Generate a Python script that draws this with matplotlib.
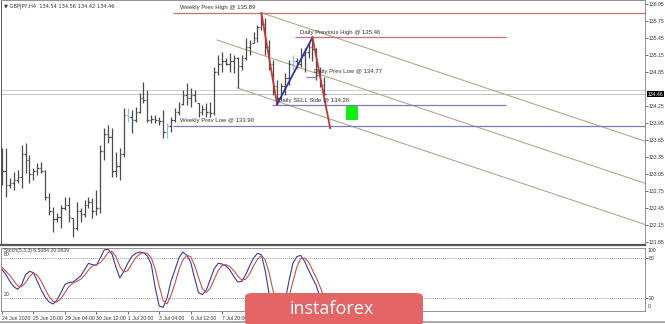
import numpy as np
import matplotlib.pyplot as plt
from matplotlib.patches import FancyBboxPatch, Rectangle

plt.rcParams['font.family'] = ['Liberation Sans', 'DejaVu Sans']

# GBPJPY H4 bars
opens = [133.40, 133.10, 132.85, 132.90, 132.95, 133.00, 133.40, 133.30, 133.05, 133.10,
         133.15, 133.10, 132.65, 132.40, 132.25, 132.30, 132.45, 132.50, 132.28, 132.10,
         132.40, 132.35, 132.50, 132.55, 132.40, 132.45, 133.45, 133.75, 133.70, 133.10,
         133.20, 133.40, 134.10, 134.05, 134.00, 134.15, 134.40, 134.35, 134.00, 134.02,
         134.00, 133.98, 133.80, 133.90, 134.00, 134.15, 134.28, 134.45, 134.40, 134.45,
         134.30, 134.15, 134.20, 134.15, 134.12, 134.85, 135.00, 135.05, 135.00, 135.05,
         135.10, 134.95, 135.10, 135.30, 135.36, 135.45, 135.65, 135.70, 135.30, 135.00,
         134.60, 134.40, 134.60, 134.75, 135.00, 135.05, 135.00, 135.15, 135.20, 135.30,
         135.25, 134.80, 134.62]
highs = [133.51, 133.51, 132.98, 133.09, 133.12, 133.56, 133.60, 133.39, 133.16, 133.25,
         133.26, 133.12, 132.72, 132.47, 132.36, 132.50, 132.65, 132.65, 132.28, 132.56,
         132.45, 132.59, 132.65, 132.63, 132.77, 133.56, 133.86, 133.92, 133.86, 133.44,
         133.51, 134.22, 134.22, 134.18, 134.23, 134.48, 134.67, 134.53, 134.09, 134.09,
         134.06, 134.18, 133.95, 134.06, 134.22, 134.32, 134.53, 134.66, 134.57, 134.53,
         134.30, 134.27, 134.30, 134.32, 134.94, 135.15, 135.20, 135.10, 135.19, 135.15,
         135.12, 135.15, 135.45, 135.42, 135.56, 135.68, 135.89, 135.80, 135.42, 135.06,
         134.71, 134.66, 134.83, 135.06, 135.15, 135.10, 135.27, 135.27, 135.36, 135.46,
         135.27, 134.94, 134.76]
lows = [132.86, 132.65, 132.80, 132.77, 132.89, 132.80, 133.07, 132.89, 132.95, 133.03,
        133.07, 132.59, 132.33, 132.03, 132.21, 132.10, 132.42, 132.21, 131.94, 132.06,
        132.21, 132.29, 132.45, 132.28, 132.33, 132.36, 133.30, 133.60, 133.00, 133.00,
        132.95, 133.35, 133.97, 133.77, 133.97, 134.13, 134.30, 133.97, 133.95, 133.95,
        133.92, 133.69, 133.69, 133.79, 133.97, 134.09, 134.27, 134.27, 134.23, 134.32,
        134.06, 134.09, 134.06, 134.06, 134.09, 134.80, 134.85, 134.97, 134.85, 134.83,
        134.57, 134.89, 135.06, 135.15, 135.36, 135.38, 135.59, 135.15, 134.89, 134.44,
        134.28, 134.36, 134.44, 134.62, 134.89, 134.92, 134.94, 134.85, 135.10, 135.05,
        134.71, 134.59, 134.44]
closes = [133.10, 132.85, 132.90, 132.95, 133.00, 133.40, 133.30, 133.05, 133.10, 133.15,
          133.10, 132.65, 132.40, 132.25, 132.30, 132.45, 132.50, 132.30, 132.10, 132.40,
          132.35, 132.50, 132.55, 132.40, 132.45, 133.45, 133.75, 133.70, 133.10, 133.20,
          133.40, 134.10, 134.05, 134.00, 134.15, 134.40, 134.35, 134.00, 134.02, 134.00,
          133.98, 133.80, 133.90, 134.00, 134.15, 134.25, 134.45, 134.40, 134.45, 134.35,
          134.15, 134.20, 134.15, 134.12, 134.85, 135.00, 135.05, 135.00, 135.05, 135.10,
          134.95, 135.10, 135.30, 135.35, 135.45, 135.65, 135.70, 135.30, 135.00, 134.60,
          134.40, 134.60, 134.75, 135.00, 135.05, 135.00, 135.15, 135.20, 135.30, 135.25,
          134.80, 134.62, 134.46]

stoch_k = [63, 55, 45, 37, 33, 40, 55, 60, 58, 45, 32, 21, 14, 11, 17, 28, 40, 43, 44, 48,
           53, 62, 72, 70, 69, 80, 92, 93, 86, 66, 50, 60, 72, 82, 87, 89, 88, 83, 70, 35,
           8, 6, 20, 45, 62, 80, 89, 84, 74, 50, 28, 25, 32, 48, 64, 72, 71, 68, 62, 52,
           44, 45, 55, 68, 80, 87, 85, 60, 25, 5, 2, 3, 15, 45, 72, 82, 84, 75, 62, 50,
           38, 20, 6.5]
stoch_d = [66, 60, 54, 46, 38, 37, 43, 52, 58, 54, 45, 33, 22, 15, 14, 19, 28, 37, 42, 45,
           48, 54, 62, 68, 70, 73, 80, 88, 90, 82, 67, 59, 61, 71, 80, 86, 88, 87, 80, 63,
           38, 16, 11, 24, 42, 62, 77, 84, 82, 69, 51, 34, 28, 35, 48, 61, 69, 70, 67, 61,
           53, 47, 48, 56, 68, 78, 84, 77, 57, 30, 11, 3, 7, 21, 44, 66, 79, 80, 74, 62,
           50, 36, 20.08]

# time labels visible in the reference (later ones sit under the logo)
time_bars = [0, 8, 16, 24, 32, 40, 48, 56]
time_labels = ['24 Jun 2020', '25 Jun 20:00', '29 Jun 04:00', '30 Jun 12:00', '1 Jul 20:00',
               '3 Jul 04:00', '6 Jul 12:00', '7 Jul 20:00']
price_ticks = [136.05, 135.75, 135.45, 135.15, 134.85, 134.25, 133.95, 133.65, 133.35,
               133.05, 132.75, 132.45, 132.15, 131.85]
last_price = 134.46
header = '\u25bc GBPJPY,H4  134.54 134.56 134.42 134.46'

level_names = ['Weekly Prev High', 'Daily Previous High', 'Daily Prev Low',
               'Daily SELL Side', 'Weekly Prev Low']
level_prices = [135.89, 135.46, 134.77, 134.26, 133.90]

# zigzag swing points (bar, price)
swing_bars = [66, 70, 79, 83.5]
swing_prices = [135.89, 134.28, 135.46, 133.86]

# channel lines (bar, price) start -> end
channel_start = [(66.2, 135.89), (54.7, 135.415), (59.8, 134.57)]
channel_slope = -0.0232

W, H = 665, 324
FS = 3.7
fig = plt.figure(figsize=(W / 100, H / 100), dpi=100)
fig.patch.set_facecolor('white')

ax = fig.add_axes([1 / W, 1 - 245 / H, 644 / W, 245 / H])
ax.set_xlim(-0.25, 163.6)
ax.set_ylim(131.80, 136.12)

x = np.arange(len(closes))
bar_col = ['#4a4a4a'] * len(closes)
for i in (32, 42, 74):
    bar_col[i] = '#8fbcd8'
ax.vlines(x, lows, highs, colors=bar_col, lw=0.9, zorder=3)
ax.hlines(opens, x - 0.4, x, colors=bar_col, lw=0.9, zorder=3)
ax.hlines(closes, x, x + 0.4, colors=bar_col, lw=0.9, zorder=3)

# bid / ask lines
ax.axhline(134.53, color='#d0d0d0', lw=0.7, zorder=1)
ax.axhline(last_price, color='#c0c0c0', lw=0.7, zorder=1)

# channel
for b0, p0 in channel_start:
    ax.plot([b0, 163.6], [p0, p0 + channel_slope * (163.6 - b0)], color='#b8a78f', lw=0.8, zorder=2)

# zigzag
ax.plot(swing_bars[0:2], swing_prices[0:2], color='#cc3333', lw=1.3, zorder=4)
ax.plot(swing_bars[1:3], swing_prices[1:3], color='#3333aa', lw=1.3, zorder=4)
ax.plot(swing_bars[2:4], swing_prices[2:4], color='#cc3333', lw=1.3, zorder=4)

# horizontal levels
red_lv, blue_lv = '#d46a6a', '#7a7ab8'
ax.hlines(level_prices[0], 43.5, 163.6, color=red_lv, lw=0.9, zorder=2)
ax.hlines(level_prices[1], 74.6, 128.2, color=red_lv, lw=0.9, zorder=2)
ax.hlines(level_prices[2], 77.4, 79.8, color='#8a8aa8', lw=0.9, zorder=2)
ax.hlines(level_prices[3], 68.7, 128.2, color=blue_lv, lw=0.9, zorder=2)
ax.hlines(level_prices[4], 43.5, 163.6, color=blue_lv, lw=0.9, zorder=2)

lbl_pos = [(45.3, 135.98), (75.8, 135.55), (79.3, 134.86), (70.2, 134.35), (45.3, 133.99)]
for (bx, py), name, val in zip(lbl_pos, level_names, level_prices):
    ax.text(bx, py, '%s @ %.2f' % (name, val), fontsize=4.3, color='#333333',
            va='center', ha='left', zorder=5)

# green box
ax.add_patch(Rectangle((87.5, 134.00), 3.0, 0.25, fc='#11ee11', ec='none', zorder=4))

ax.yaxis.tick_right()
ax.set_yticks(price_ticks)
ax.set_yticklabels(['%.2f' % t for t in price_ticks])
ax.tick_params(axis='y', direction='out', length=2, labelsize=FS, pad=0.8,
               colors='#333333', width=0.5)
ax.set_xticks([])
ax.text(1.0035, last_price, '%.2f' % last_price, transform=ax.get_yaxis_transform(),
        fontsize=FS, color='white', va='center', ha='left',
        bbox=dict(fc='black', ec='none', pad=0.4), zorder=6)
for s in ax.spines.values():
    s.set_color('#909090')
    s.set_linewidth(0.7)
ax.spines['bottom'].set_color('#555555')
ax.spines['bottom'].set_linewidth(1.6)
ax.spines['left'].set_color('#555555')
ax.text(0.004, 0.985, header, transform=ax.transAxes, fontsize=FS, color='#333333',
        family=['DejaVu Sans'], va='top', ha='left')

# stochastic panel
sx = fig.add_axes([1 / W, 1 - 311 / H, 644 / W, 63 / H])
sx.set_xlim(-0.25, 163.6)
sx.set_ylim(0.5, 95)
sx.plot(x, stoch_k, color='#3a3aa0', lw=0.8)
sx.plot(x, stoch_d, color='#c85050', lw=0.8)
sx.axhline(80, color='#777777', lw=0.6, ls=(0, (1, 1.5)))
sx.axhline(20, color='#777777', lw=0.6, ls=(0, (1, 1.5)))
sx.yaxis.tick_right()
sx.set_yticks([80, 20])
sx.set_yticklabels(['80', '20'])
sx.tick_params(axis='y', direction='out', length=2, labelsize=FS, pad=0.8,
               colors='#333333', width=0.5)
sx.text(1.004, 1.0, '100', transform=sx.transAxes, fontsize=FS, va='top', color='#333333')
sx.text(1.004, 0.03, '0', transform=sx.transAxes, fontsize=FS, va='bottom', color='#333333')
sx.text(0.004, 0.995, 'Stoch(5,3,3) 6.5084 20.0839', transform=sx.transAxes, fontsize=FS,
        va='top', color='#333333')
sx.text(0.004, 81, '80', transform=sx.get_yaxis_transform(), fontsize=FS, va='bottom',
        color='#333333')
sx.text(0.004, 21, '20', transform=sx.get_yaxis_transform(), fontsize=FS, va='bottom',
        color='#333333')
sx.set_xticks(time_bars)
sx.set_xticklabels(time_labels, ha='left')
sx.tick_params(axis='x', direction='out', length=2, labelsize=FS, pad=1.5,
               colors='#333333', width=0.5)
for s in sx.spines.values():
    s.set_color('#909090')
    s.set_linewidth(0.7)

# bottom strip
fig.add_artist(plt.Line2D([0, 1], [1 - 322 / H] * 2, color='#999999', lw=1.2))

# instaforex badge
fig.add_artist(FancyBboxPatch((245 / W, 1 - 326 / H), 178 / W, 33 / H,
                              boxstyle='round,pad=0,rounding_size=0.012',
                              fc='#e46565', ec='none', zorder=10))
fig.text(332 / W, 1 - 309 / H, 'instaforex', fontsize=13, color='white',
         family=['Open Sans', 'DejaVu Sans'], ha='center', va='center', zorder=11)

fig.savefig('out.png', dpi=100)
